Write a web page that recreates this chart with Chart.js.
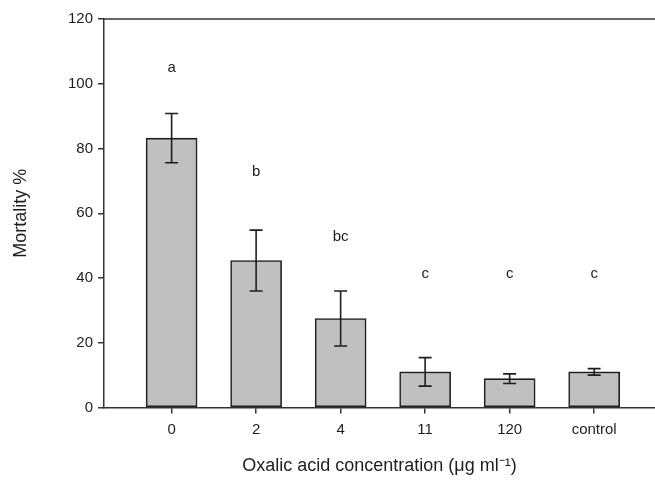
<!DOCTYPE html>
<html>
<head>
<meta charset="utf-8">
<script src="https://cdn.jsdelivr.net/npm/chart.js@4"></script>
<style>
  body { margin: 0; background: #fff; }
  #wrap { width: 655px; height: 487px; }
</style>
</head>
<body>
<div id="wrap"><canvas id="myChart" width="655" height="487"></canvas></div>
<script>
// Data
var categories = ['0', '2', '4', '11', '120', 'control'];
var mortality = [83.2, 45.4, 27.5, 11.0, 8.9, 11.0];     // mean mortality %
var errors = [7.6, 9.4, 8.5, 4.4, 1.5, 1.0];             // error bar half length
var letters = ['a', 'b', 'bc', 'c', 'c', 'c'];
var letterLevel = [105, 72.8, 52.7, 41.2, 41.2, 41.2];   // y value where letter sits
var yTicks = [0, 20, 40, 60, 80, 100, 120];

var ink = '#1e1e1e';
var font = 'Liberation Sans, Arial, sans-serif';

// error bars, letters and the top frame line
var extras = {
    id: 'extras',
    afterDatasetsDraw: function(chart) {
        var ctx = chart.ctx;
        var xs = chart.scales.x;
        var ys = chart.scales.y;
        var area = chart.chartArea;
        ctx.save();
        ctx.strokeStyle = ink;
        ctx.lineWidth = 1.6;
        for (var i = 0; i < mortality.length; i++) {
            var x = xs.getPixelForValue(i);
            var top = ys.getPixelForValue(mortality[i] + errors[i]);
            var bot = ys.getPixelForValue(mortality[i] - errors[i]);
            ctx.beginPath();
            ctx.moveTo(x, top); ctx.lineTo(x, bot);
            ctx.moveTo(x - 6.5, top); ctx.lineTo(x + 6.5, top);
            ctx.moveTo(x - 6.5, bot); ctx.lineTo(x + 6.5, bot);
            ctx.stroke();
        }
        ctx.fillStyle = ink;
        ctx.font = '15px ' + font;
        ctx.textAlign = 'center';
        ctx.textBaseline = 'middle';
        for (var j = 0; j < letters.length; j++) {
            ctx.fillText(letters[j], xs.getPixelForValue(j), ys.getPixelForValue(letterLevel[j]));
        }
        // top line of the frame
        ctx.lineWidth = 1.5;
        ctx.strokeStyle = '#333';
        ctx.beginPath();
        ctx.moveTo(area.left, area.top);
        ctx.lineTo(area.right, area.top);
        ctx.stroke();
        ctx.restore();
    }
};

var ctx = document.getElementById('myChart').getContext('2d');
var myChart = new Chart(ctx, {
    type: 'bar',
    data: {
        datasets: [{
            label: 'Mortality %',
            data: categories.map(function(c, i) { return { x: i, y: mortality[i] }; }),
            backgroundColor: '#c0c0c0',
            borderColor: ink,
            borderWidth: 1.6,
            borderSkipped: false,
            barThickness: 51
        }]
    },
    options: {
        responsive: false,
        animation: false,
        layout: { padding: { top: 19, right: 0, left: 0, bottom: 0 } },
        plugins: {
            legend: { display: false },
            tooltip: { enabled: false }
        },
        scales: {
            x: {
                type: 'linear',
                offset: false,
                min: -0.8,
                max: 5.72,
                afterBuildTicks: function(scale) {
                    scale.ticks = categories.map(function(c, i) { return { value: i }; });
                },
                afterFit: function(scale) { scale.height = 79.5; },
                ticks: {
                    color: ink,
                    font: { family: font, size: 15 },
                    padding: 7,
                    maxRotation: 0,
                    callback: function(v) { return categories[v]; }
                },
                grid: { offset: false, drawOnChartArea: false, drawTicks: true, tickLength: 6, color: '#333', lineWidth: 1.5 },
                border: { display: true, color: '#333', width: 1.5 },
                title: {
                    display: true,
                    text: 'Oxalic acid concentration (\u03bcg ml\u207b\u00b9)',
                    color: ink,
                    font: { family: font, size: 18 },
                    padding: { top: 4, bottom: 10 }
                }
            },
            y: {
                min: 0,
                max: 120,
                afterBuildTicks: function(scale) {
                    scale.ticks = yTicks.map(function(v) { return { value: v }; });
                },
                afterFit: function(scale) { scale.width = 104; },
                ticks: {
                    color: ink,
                    font: { family: font, size: 15 },
                    padding: 5
                },
                grid: { drawOnChartArea: false, drawTicks: true, tickLength: 6, color: '#333', lineWidth: 1.5 },
                border: { display: true, color: '#333', width: 1.5 },
                title: {
                    display: true,
                    text: 'Mortality %',
                    color: ink,
                    font: { family: font, size: 18 },
                    padding: { top: 10, bottom: 0 }
                }
            }
        }
    },
    plugins: [extras]
});
</script>
</body>
</html>
